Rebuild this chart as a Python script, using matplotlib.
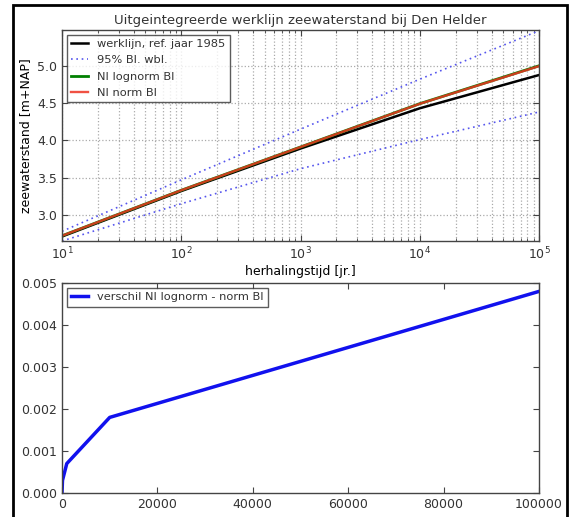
import matplotlib
matplotlib.use("Agg")
import matplotlib.pyplot as plt
from matplotlib.patches import Rectangle
from matplotlib.ticker import LogLocator, LogFormatterMathtext

# Return periods [years]
return_period = [10, 100, 1000, 10000, 100000]

# Sea level [m+NAP]
werklijn_1985 = [2.71, 3.32, 3.89, 4.43, 4.876]
ci95_upper = [2.78, 3.47, 4.15, 4.82, 5.47]
ci95_lower = [2.65, 3.15, 3.62, 4.01, 4.38]
ni_norm = [2.72, 3.33, 3.91, 4.49, 4.995]
ni_lognorm_minus_norm = [0.00003, 0.0003, 0.0007, 0.0018, 0.0048]
ni_lognorm = [n + d for n, d in zip(ni_norm, ni_lognorm_minus_norm)]

plt.rcParams.update({
    "font.family": "DejaVu Sans",
    "font.size": 9,
    "mathtext.fontset": "dejavusans",
    "mathtext.default": "regular",
    "xtick.direction": "in",
    "ytick.direction": "in",
    "xtick.top": True,
    "ytick.right": True,
    "xtick.major.size": 4,
    "ytick.major.size": 4,
    "xtick.minor.size": 2,
    "ytick.minor.size": 2,
    "axes.linewidth": 1.0,
    "axes.edgecolor": "#444444",
    "xtick.color": "#444444",
    "ytick.color": "#444444",
    "xtick.labelcolor": "#333333",
    "ytick.labelcolor": "#333333",
    "text.color": "#333333",
    "legend.fancybox": False,
})

W, H = 570, 517
fig = plt.figure(figsize=(W / 100, H / 100), dpi=100)

# black frame around the whole figure
fig.patches.append(Rectangle((13 / W, -0.05), (567 - 13) / W, 1.05 - 5 / H,
                             transform=fig.transFigure, fill=False,
                             edgecolor="black", linewidth=2.0))

ax1 = fig.add_axes([62 / W, 1 - 241 / H, (539 - 62) / W, (241 - 30) / H])
ax1.plot(return_period, werklijn_1985, color="black", lw=1.8,
         label="werklijn, ref. jaar 1985")
ax1.plot(return_period, ci95_upper, color="#5555ee", lw=1.2, ls=(0, (1, 2.2)),
         label="95% BI. wbl.")
ax1.plot(return_period, ci95_lower, color="#5555ee", lw=1.2, ls=(0, (1, 2.2)))
ax1.plot(return_period, ni_lognorm, color="green", lw=2.0, label="NI lognorm BI")
ax1.plot(return_period, ni_norm, color="#ee3322", lw=1.7, alpha=0.85,
         label="NI norm BI")
ax1.set_xscale("log")
ax1.set_xlim(10, 100000)
ax1.set_ylim(2.65, 5.48)
ax1.set_yticks([3.0, 3.5, 4.0, 4.5, 5.0])
ax1.xaxis.set_major_locator(LogLocator(base=10))
ax1.xaxis.set_major_formatter(LogFormatterMathtext())
ax1.grid(True, which="both", axis="x", color="#aaaaaa", ls=":", lw=0.9)
ax1.grid(True, which="major", axis="y", color="#aaaaaa", ls=":", lw=0.9)
ax1.set_title("Uitgeintegreerde werklijn zeewaterstand bij Den Helder",
              fontsize=9.5, pad=4)
ax1.set_xlabel("herhalingstijd [jr.]", labelpad=2)
ax1.set_ylabel("zeewaterstand [m+NAP]", labelpad=4)
leg1 = ax1.legend(loc="upper left", fontsize=8.2, handlelength=1.5,
                  borderaxespad=0.4, labelspacing=0.55, frameon=True)
leg1.get_frame().set_edgecolor("#333333")
leg1.get_frame().set_linewidth(1.0)

ax2 = fig.add_axes([62 / W, 1 - 493 / H, (539 - 62) / W, (493 - 283) / H])
ax2.plot(return_period, ni_lognorm_minus_norm, color="#1111ee", lw=2.5,
         label="verschil NI lognorm - norm BI")
ax2.set_xlim(0, 100000)
ax2.set_ylim(0, 0.005)
ax2.set_xticks([0, 20000, 40000, 60000, 80000, 100000])
ax2.set_yticks([0.0, 0.001, 0.002, 0.003, 0.004, 0.005])
ax2.set_yticklabels(["0.000", "0.001", "0.002", "0.003", "0.004", "0.005"])
leg2 = ax2.legend(loc="upper left", fontsize=8.2, handlelength=1.5,
                  borderaxespad=0.4, frameon=True)
leg2.get_frame().set_edgecolor("#333333")
leg2.get_frame().set_linewidth(1.0)

fig.savefig("out.png", dpi=100, facecolor="white")
